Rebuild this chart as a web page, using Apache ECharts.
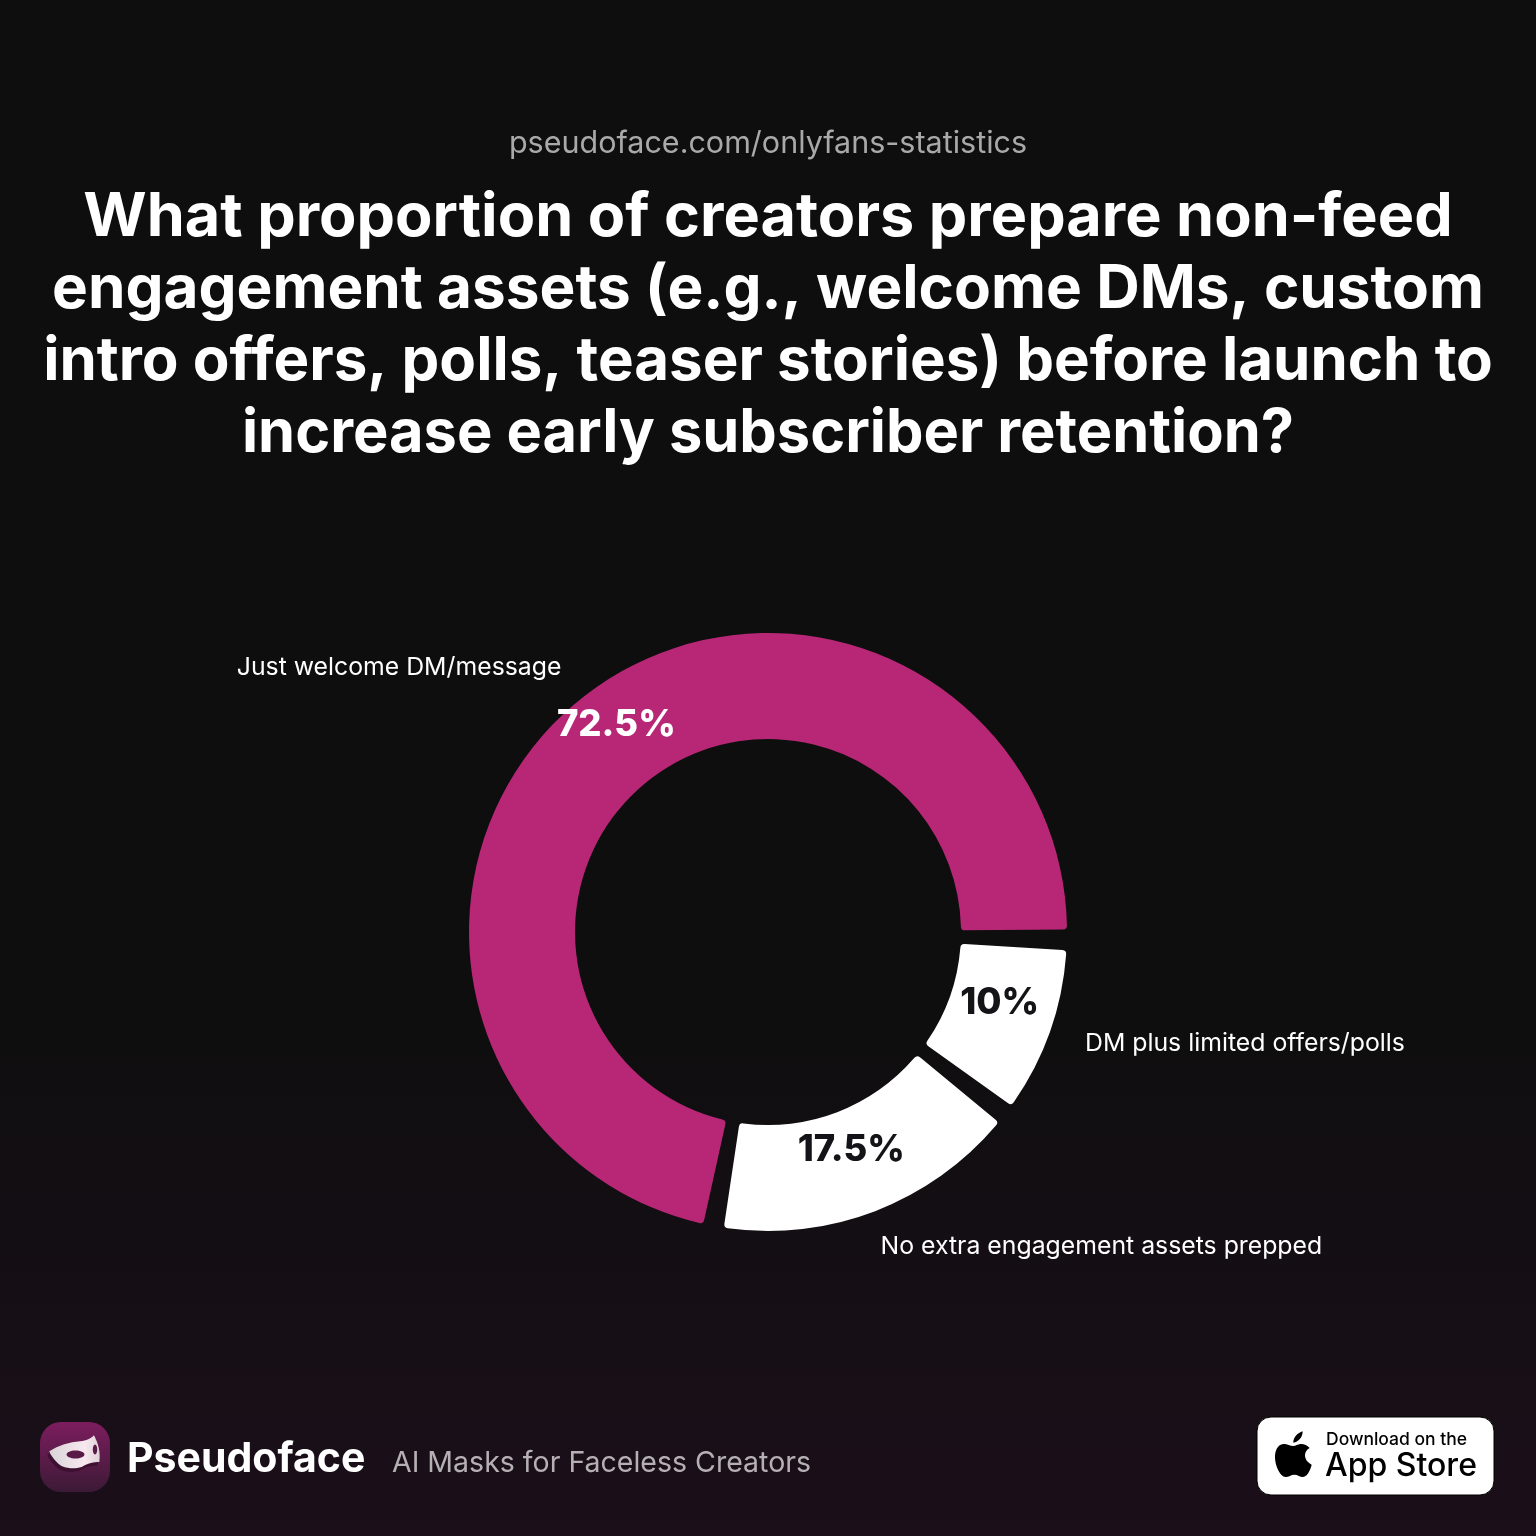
<!DOCTYPE html>
<html><head><meta charset="utf-8">
<style>html,body{margin:0;padding:0;background:#0e0e0e}#c{width:1536px;height:1536px}</style>
<script src="https://cdn.jsdelivr.net/npm/echarts@6/dist/echarts.min.js"></script>
</head><body><div id="c"></div>
<script>
const categories = ['Just welcome DM/message','No extra engagement assets prepped','DM plus limited offers/polls'];
const values = [72.5,17.5,10];
const percentLabels = ['72.5%','17.5%','10%'];
const titleLines = ['What proportion of creators prepare non-feed','engagement assets (e.g., welcome DMs, custom','intro offers, polls, teaser stories) before launch to','increase early subscriber retention?'];
const sourceText = 'pseudoface.com/onlyfans-statistics';
const brandName = 'Pseudoface';
const brandTag = 'AI Masks for Faceless Creators';
const badgeLines = ['Download on the','App Store'];
const sliceColors = ['#b72776','#ffffff','#ffffff'];
const percentColors = ['#ffffff','#141418','#141418'];
const titleStretch = [1.019,1.004,1,0.992];
const percentOffsets = [[5,-13],[-6,-14],[-3,-12]];
const nameOffsets = [[26,-20],[-35,21],[-14,7]];
const F = 'Inter, "Noto Sans", sans-serif';
const APPLE='M113 28C98 33 85 45 85 62C100 60 113 47 113 28ZM85 72C75 72 65 65 55 66C38 68 30 85 30 105C30 130 45 165 62 165C72 165 78 158 88 158C98 158 105 165 113 165C125 165 135 148 140 128C128 122 120 112 120 100C120 90 126 82 134 78C126 68 115 65 106 66C98 67 92 72 85 72Z';
const MASK='M58 118C85 100 120 90 150 88C170 86 182 80 192 70C205 95 212 120 208 150C190 148 170 155 155 165C130 172 95 170 80 150C70 140 62 130 58 118Z';
echarts.graphic.registerShape('apple',echarts.graphic.extendPath(APPLE,{}));
echarts.graphic.registerShape('mask',echarts.graphic.extendPath(MASK,{}));
const chart = echarts.init(document.getElementById('c'),null,{renderer:'canvas'});
const text=(s,x,y,size,weight,fill,align,sx)=>({type:'text',x,y,scaleX:sx||1,style:{text:s,font:`${weight} ${size}px ${F}`,fill,textAlign:align||'left',textVerticalAlign:'middle'}});
const pieBase={type:'pie',center:[768,932],radius:[193,299],startAngle:-1.5,clockwise:false,padAngle:4,silent:true,labelLine:{show:false},emphasis:{disabled:true}};
chart.setOption({
 animation:false,
 backgroundColor:{type:'linear',x:0,y:0,x2:0,y2:1,colorStops:[{offset:0,color:'#0e0e0e'},{offset:0.65,color:'#0e0e0e'},{offset:1,color:'#1b0f1a'}]},
 graphic:[
  text(sourceText,768,144,30.5,400,'#a9a9a9','center'),
  ...titleLines.map((l,i)=>text(l,768,218+i*72,60,700,'#ffffff','center',titleStretch[i])),
  {type:'rect',shape:{x:40,y:1422,width:70,height:70,r:21},style:{fill:{type:'linear',x:0,y:0,x2:0,y2:1,colorStops:[{offset:0,color:'#7c1d5e'},{offset:1,color:'#3c1a36'}]}}},
  {type:'mask',x:28,y:1415.5,scaleX:1/3,scaleY:1/3,style:{fill:'#3d0f30'}},
  {type:'mask',x:30,y:1412,scaleX:1/3,scaleY:1/3,style:{fill:{type:'linear',x:0,y:0,x2:1,y2:0,colorStops:[{offset:0,color:'#d8d4d6'},{offset:0.7,color:'#f8e8f0'},{offset:1,color:'#e0d0d8'}]}}},
  {type:'ellipse',shape:{cx:75.5,cy:1454.5,rx:9,ry:4},style:{fill:'#5a1a48'}},
  {type:'ellipse',shape:{cx:95,cy:1449.5,rx:2.2,ry:5},style:{fill:'#5a1a48'}},
  text(brandName,127,1460,41,700,'#ffffff'),
  text(brandTag,392,1463,29,400,'#b5b0b3','left',0.983),
  {type:'rect',shape:{x:1257,y:1417,width:237,height:78,r:14},style:{fill:'#ffffff',stroke:'#000',lineWidth:1}},
  {type:'apple',x:1265,y:1422,scaleX:1/3,scaleY:1/3,style:{fill:'#000'}},
  text(badgeLines[0],1326,1440,17.5,500,'#000'),
  text(badgeLines[1],1325,1466,32,500,'#000')
 ],
 series:[
  {...pieBase,itemStyle:{borderRadius:4},
   data:values.map((v,i)=>({value:v,name:categories[i],itemStyle:{color:sliceColors[i]},label:{color:percentColors[i]}})),
   label:{show:true,position:'inside',formatter:p=>percentLabels[p.dataIndex],fontFamily:F,fontWeight:800,fontSize:36.5},
   labelLayout:p=>({dx:percentOffsets[p.dataIndex][0],dy:percentOffsets[p.dataIndex][1]})
  },
  {...pieBase,z:3,itemStyle:{color:'transparent'},
   data:values.map((v,i)=>({value:v,name:categories[i]})),
   label:{show:true,position:'outside',formatter:'{b}',fontFamily:F,fontSize:24.8,color:'#ffffff'},
   labelLayout:p=>({dx:nameOffsets[p.dataIndex][0],dy:nameOffsets[p.dataIndex][1]})
  }
 ]
});
</script></body></html>
